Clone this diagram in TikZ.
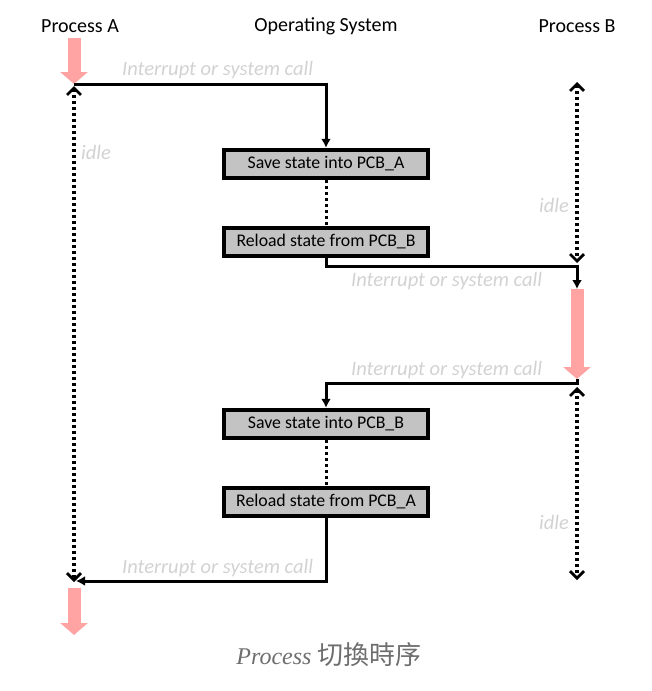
\documentclass[tikz,border=0pt]{standalone}
\usepackage{fontspec}
\setmainfont{Carlito}
\newfontfamily\capfont{Liberation Serif}
\newfontfamily\cjkfont{Noto Sans CJK TC}
\usetikzlibrary{arrows.meta}
\definecolor{pinkarrow}{HTML}{FFA3A3}
\definecolor{lbl}{HTML}{D2D2D2}
\definecolor{boxfill}{HTML}{C3C3C3}
\definecolor{capgray}{HTML}{6E6E6E}
\tikzset{
  title/.style={font=\fontsize{20}{24}\selectfont},
  osbox/.style={draw=black, line width=4.5pt, fill=boxfill, minimum width=204pt, minimum height=28pt, inner sep=0pt, font=\fontsize{17.8}{20}\selectfont},
  conn/.style={draw=black, line width=3pt, -{Latex[length=9pt,width=10pt]}},
  plain/.style={draw=black, line width=3pt},
  idleline/.style={draw=black, line width=3.2pt, dash pattern=on 3pt off 3pt, {Straight Barb[length=7pt,width=14pt,line width=2.8pt]}-{Straight Barb[length=7pt,width=14pt,line width=2.8pt]}},
  fat/.style={draw=pinkarrow, line width=13pt, -{Triangle[length=12pt,width=27pt]}},
  lab/.style={text=lbl, font=\fontsize{20.5}{24}\selectfont\itshape, inner sep=0pt},
}
\begin{document}
\begin{tikzpicture}[x=1pt,y=-1pt]
\useasboundingbox (0,0) rectangle (652,691);
% titles
\node[title] (tA) at (80,26) {Process A};
\node[title] (tOS) at (326,26) {Operating System};
\node[title] (tB) at (577,26) {Process B};
% coordinates
\coordinate (a0) at (74,38);
\coordinate (a1) at (74,84);
\coordinate (a2) at (74,582);
\coordinate (a3) at (74,588);
\coordinate (a4) at (74,635);
\coordinate (b0) at (577,82);
\coordinate (b1) at (577,263);
\coordinate (b2) at (577,289);
\coordinate (b3) at (577,379);
\coordinate (b4) at (577,387);
\coordinate (b5) at (577,580);
% boxes
\node[osbox] (s1) at (326,164) {Save state into PCB\_A};
\node[osbox] (r1) at (326,242) {Reload state from PCB\_B};
\node[osbox] (s2) at (326,424) {Save state into PCB\_B};
\node[osbox] (r2) at (326,502) {Reload state from PCB\_A};
% pink arrows
\draw[fat] (a0) -- (a1);
\draw[fat] (b2) -- (b3);
\draw[fat] (a3) -- (a4);
% idle lines
\draw[idleline] (74,86) -- (a2);
\draw[idleline] (b0) -- (b1);
\draw[idleline] (b4) -- (b5);
% dotted between boxes
\draw[black, line width=3pt, dash pattern=on 3pt off 3pt] (s1.south) -- (r1.north);
\draw[black, line width=3pt, dash pattern=on 3pt off 3pt] (s2.south) -- (r2.north);
% connectors
\draw[conn] (a1) -| (s1.north);
\draw[plain] (r1.south) -- (326,266) -- (577,266);
\draw[conn] (577,264.5) -- (577,289);
\draw[conn] (b3) |- (326,383) -- (s2.north);
\draw[conn] (r2.south) |- (76,581);
% labels
\node[lab, anchor=west] (l1) at (122,70) {Interrupt or system call};
\node[lab, anchor=west] (l2) at (351,281) {Interrupt or system call};
\node[lab, anchor=west] (l3) at (351,370) {Interrupt or system call};
\node[lab, anchor=west] (l4) at (122,568) {Interrupt or system call};
\node[lab, anchor=west] (i1) at (81,152) {idle};
\node[lab, anchor=west] (i2) at (539,205) {idle};
\node[lab, anchor=west] (i3) at (539,522) {idle};
% caption
\node[text=capgray, inner sep=0pt] (cap) at (329,655) {\capfont\fontsize{24}{28}\selectfont\itshape Process \cjkfont\fontsize{26}{30}\selectfont 切換時序};
\end{tikzpicture}
\end{document}
